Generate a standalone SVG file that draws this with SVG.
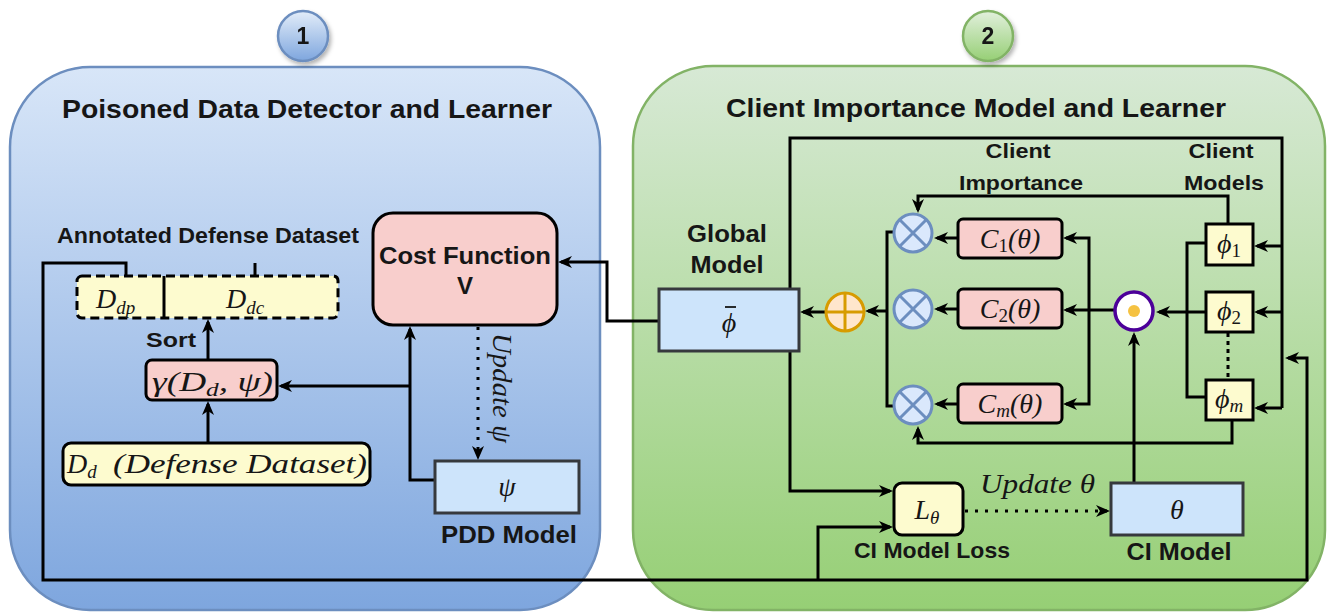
<svg xmlns="http://www.w3.org/2000/svg" width="1327" height="613" viewBox="0 0 1327 613">
  <defs>
    <linearGradient id="gBlue" x1="0" y1="0" x2="0" y2="1">
      <stop offset="0" stop-color="#d8e6f8"/>
      <stop offset="1" stop-color="#7ea6de"/>
    </linearGradient>
    <linearGradient id="gGreen" x1="0" y1="0" x2="0" y2="1">
      <stop offset="0" stop-color="#d7e9d5"/>
      <stop offset="1" stop-color="#96cf75"/>
    </linearGradient>
    <linearGradient id="gBadgeBlue" x1="0" y1="0" x2="0" y2="1">
      <stop offset="0" stop-color="#e3edf9"/>
      <stop offset="1" stop-color="#7ea6de"/>
    </linearGradient>
    <linearGradient id="gBadgeGreen" x1="0" y1="0" x2="0" y2="1">
      <stop offset="0" stop-color="#e2f0dd"/>
      <stop offset="1" stop-color="#96cf75"/>
    </linearGradient>
    <filter id="shadow" x="-30%" y="-30%" width="160%" height="160%">
      <feDropShadow dx="2" dy="3" stdDeviation="2" flood-color="#000" flood-opacity="0.3"/>
    </filter>
    <marker id="arr" viewBox="0 0 14 12" refX="11" refY="6" markerWidth="14" markerHeight="12" markerUnits="userSpaceOnUse" orient="auto">
      <path d="M0,0 L14,6 L0,12 L4,6 z" fill="#000"/>
    </marker>
    <style>
      .lbl { font-family: "Liberation Sans", Arial, sans-serif; font-weight: bold; fill: #161616; }
      .title { font-size: 25px; }
      .small { font-size: 21px; }
      .math { font-family: "Liberation Serif", "DejaVu Serif", serif; font-style: italic; fill: #161616; font-size: 28px; }
      .sub { font-size: 19px; }
      .conn { fill: none; stroke: #000; stroke-width: 3; }
      .dot { stroke-dasharray: 3 7; }
      .box { stroke: #000; stroke-width: 3; }
      .pink { fill: #f8cecc; }
      .yellow { fill: #fdfbcf; }
      .model { fill: #cde4fb; stroke: #36393d; stroke-width: 3; }
      .times { fill: #dae8fc; stroke: #6c8ebf; stroke-width: 3; }
    </style>
  </defs>

  <!-- panel 1: poisoned data detector -->
  <g id="panel1">
    <rect x="10" y="67" width="590" height="543" rx="80" ry="80" fill="url(#gBlue)" stroke="#6c8ebf" stroke-width="2.5"/>
    <text class="lbl title" x="307" y="118" text-anchor="middle" textLength="490" lengthAdjust="spacingAndGlyphs">Poisoned Data Detector and Learner</text>
  </g>
  <g id="badge1" filter="url(#shadow)">
    <circle cx="303" cy="36" r="25" fill="url(#gBadgeBlue)" stroke="#6c8ebf" stroke-width="2.5"/>
    <text class="lbl" x="303" y="44" text-anchor="middle" font-size="23">1</text>
  </g>

  <!-- panel 2: client importance model -->
  <g id="panel2">
    <rect x="633" y="66" width="692" height="544" rx="80" ry="80" fill="url(#gGreen)" stroke="#82b366" stroke-width="2.5"/>
    <text class="lbl title" x="976" y="117" text-anchor="middle" textLength="500" lengthAdjust="spacingAndGlyphs">Client Importance Model and Learner</text>
  </g>
  <g id="badge2" filter="url(#shadow)">
    <circle cx="988" cy="36" r="25" fill="url(#gBadgeGreen)" stroke="#82b366" stroke-width="2.5"/>
    <text class="lbl" x="988" y="44" text-anchor="middle" font-size="23">2</text>
  </g>

  <!-- connectors -->
  <g id="connectors">
    <path class="conn" d="M208,360 V322" marker-end="url(#arr)"/>
    <path class="conn" d="M208,443 V404" marker-end="url(#arr)"/>
    <path class="conn" d="M435,480 H410 V329" marker-end="url(#arr)"/>
    <path class="conn" d="M410,386 H281" marker-end="url(#arr)"/>
    <path class="conn dot" d="M478,327 V457" marker-end="url(#arr)"/>
    <path class="conn" d="M659,321 H607 V262 H561" marker-end="url(#arr)"/>
    <path class="conn" d="M126,276 V263 H43 V580 H1307 V358 H1288" marker-end="url(#arr)"/>
    <path class="conn" d="M255,276 V263"/>
    <path class="conn" d="M818,580 V527 H890" marker-end="url(#arr)"/>
    <path class="conn" d="M790,351 V491 H890" marker-end="url(#arr)"/>
    <path class="conn dot" d="M965,511 H1107" marker-end="url(#arr)"/>
    <path class="conn" d="M1134,483 V335" marker-end="url(#arr)"/>
    <path class="conn" d="M1114,310 H1066" marker-end="url(#arr)"/>
    <path class="conn" d="M1089,310 V238 H1066" marker-end="url(#arr)"/>
    <path class="conn" d="M1089,310 V404 H1066" marker-end="url(#arr)"/>
    <path class="conn" d="M958,238 H937" marker-end="url(#arr)"/>
    <path class="conn" d="M958,309 H937" marker-end="url(#arr)"/>
    <path class="conn" d="M958,404 H937" marker-end="url(#arr)"/>
    <path class="conn" d="M894,232 H887 V406 H894"/>
    <path class="conn" d="M887,311 H868" marker-end="url(#arr)"/>
    <path class="conn" d="M825,312 H803" marker-end="url(#arr)"/>
    <path class="conn" d="M790,289 V138 H1282 V408"/>
    <path class="conn" d="M1282,246 H1257" marker-end="url(#arr)"/>
    <path class="conn" d="M1282,312 H1257" marker-end="url(#arr)"/>
    <path class="conn" d="M1282,408 H1257" marker-end="url(#arr)"/>
    <path class="conn" d="M1228,224 V196 H918 V210" marker-end="url(#arr)"/>
    <path class="conn" d="M1206,243 H1187 V397 H1206"/>
    <path class="conn" d="M1206,312 H1159" marker-end="url(#arr)"/>
    <path class="conn" d="M1228,333 V380" stroke-width="4" stroke-dasharray="4 4"/>
    <path class="conn" d="M1232,420 V443 H918 V429" marker-end="url(#arr)"/>
  </g>

  <!-- annotated defense dataset -->
  <g id="annotated-dataset">
    <text class="lbl" x="208" y="243" text-anchor="middle" font-size="22" textLength="302" lengthAdjust="spacingAndGlyphs">Annotated Defense Dataset</text>
    <rect x="77" y="276" width="261" height="42" rx="5" class="yellow" stroke="#000" stroke-width="3" stroke-dasharray="9 5"/>
    <line x1="164" y1="276" x2="164" y2="318" stroke="#000" stroke-width="3"/>
    <text class="math" x="96" y="308">D<tspan class="sub" dy="6">dp</tspan></text>
    <text class="math" x="226" y="308">D<tspan class="sub" dy="6">dc</tspan></text>
  </g>
  <g id="sort-label">
    <text class="lbl small" x="146" y="347" font-size="22" textLength="50" lengthAdjust="spacingAndGlyphs">Sort</text>
  </g>

  <!-- scoring function -->
  <g id="gamma">
    <rect x="146" y="360" width="131" height="40" rx="6" class="box pink"/>
    <text class="math" x="152" y="391" textLength="121" lengthAdjust="spacingAndGlyphs">γ(D<tspan class="sub" dy="5">d</tspan><tspan dy="-5">, ψ)</tspan></text>
  </g>

  <!-- defense dataset -->
  <g id="defense-dataset">
    <rect x="63" y="443" width="307" height="42" rx="8" class="box yellow"/>
    <text class="math" x="67" y="473">D<tspan class="sub" dy="5">d</tspan><tspan dy="-5" x="113" textLength="254" lengthAdjust="spacingAndGlyphs">(Defense Dataset)</tspan></text>
  </g>

  <!-- cost function -->
  <g id="cost-function">
    <rect x="373" y="213" width="184" height="112" rx="20" class="box pink"/>
    <text class="lbl" x="465" y="264" text-anchor="middle" font-size="24" textLength="172" lengthAdjust="spacingAndGlyphs">Cost Function</text>
    <text class="lbl" x="465" y="294" text-anchor="middle" font-size="24">V</text>
  </g>

  <!-- update psi label -->
  <g id="update-psi">
    <text class="math" x="0" y="0" font-size="25" text-anchor="middle" textLength="110" lengthAdjust="spacingAndGlyphs" transform="translate(493,388) rotate(90)">Update ψ</text>
  </g>

  <!-- PDD model -->
  <g id="pdd-model">
    <rect x="435" y="461" width="144" height="52" class="model"/>
    <text class="math" x="507" y="496" text-anchor="middle">ψ</text>
    <text class="lbl" x="509" y="543" text-anchor="middle" font-size="23" textLength="136" lengthAdjust="spacingAndGlyphs">PDD Model</text>
  </g>

  <!-- global model (phi with an averaging bar) -->
  <g id="global-model">
    <text class="lbl" x="727" y="242" text-anchor="middle" font-size="23" textLength="80" lengthAdjust="spacingAndGlyphs">Global</text>
    <text class="lbl" x="727" y="273" text-anchor="middle" font-size="23" textLength="73" lengthAdjust="spacingAndGlyphs">Model</text>
    <rect x="659" y="289" width="140" height="62" class="model"/>
    <text class="math" x="729" y="332" text-anchor="middle">ϕ</text>
    <line x1="725" y1="307" x2="736" y2="307" stroke="#161616" stroke-width="1.8"/>
  </g>

  <!-- aggregation -->
  <g id="sum-node">
    <circle cx="845" cy="312" r="19" fill="#ffe6cc" stroke="#d79b00" stroke-width="3"/>
    <path d="M826,312 H864 M845,293 V331" stroke="#d79b00" stroke-width="3"/>
  </g>

  <!-- weighted products -->
  <g id="times-1">
    <circle cx="913" cy="233" r="19" class="times"/>
    <path d="M899.5,219.5 L926.5,246.5 M926.5,219.5 L899.5,246.5" stroke="#6c8ebf" stroke-width="3"/>
  </g>
  <g id="times-2">
    <circle cx="913" cy="309" r="19" class="times"/>
    <path d="M899.5,295.5 L926.5,322.5 M926.5,295.5 L899.5,322.5" stroke="#6c8ebf" stroke-width="3"/>
  </g>
  <g id="times-m">
    <circle cx="913" cy="405" r="19" class="times"/>
    <path d="M899.5,391.5 L926.5,418.5 M926.5,391.5 L899.5,418.5" stroke="#6c8ebf" stroke-width="3"/>
  </g>

  <!-- client importance scores -->
  <g id="client-importance-label">
    <text class="lbl small" x="1018" y="158" text-anchor="middle" textLength="65" lengthAdjust="spacingAndGlyphs">Client</text>
    <text class="lbl small" x="1021" y="190" text-anchor="middle" textLength="124" lengthAdjust="spacingAndGlyphs">Importance</text>
  </g>
  <g id="c1">
    <rect x="958" y="219" width="104" height="39" rx="5" class="box pink"/>
    <text class="math" x="1010" y="248" text-anchor="middle" font-size="29">C<tspan class="sub" dy="4" font-style="normal">1</tspan><tspan dy="-4">(θ)</tspan></text>
  </g>
  <g id="c2">
    <rect x="958" y="289" width="104" height="39" rx="5" class="box pink"/>
    <text class="math" x="1010" y="318" text-anchor="middle" font-size="29">C<tspan class="sub" dy="4" font-style="normal">2</tspan><tspan dy="-4">(θ)</tspan></text>
  </g>
  <g id="cm">
    <rect x="958" y="384" width="104" height="39" rx="5" class="box pink"/>
    <text class="math" x="1010" y="413" text-anchor="middle" font-size="29">C<tspan class="sub" dy="4">m</tspan><tspan dy="-4">(θ)</tspan></text>
  </g>

  <!-- hadamard node -->
  <g id="hadamard">
    <circle cx="1134" cy="311" r="19" fill="#ffffff" stroke="#4c0099" stroke-width="3.5"/>
    <circle cx="1134" cy="311" r="6" fill="#f5c242"/>
  </g>

  <!-- client models -->
  <g id="client-models-label">
    <text class="lbl small" x="1221" y="158" text-anchor="middle" textLength="65" lengthAdjust="spacingAndGlyphs">Client</text>
    <text class="lbl small" x="1224" y="190" text-anchor="middle" textLength="80" lengthAdjust="spacingAndGlyphs">Models</text>
  </g>
  <g id="phi1">
    <rect x="1206" y="224" width="47" height="41" class="box yellow"/>
    <text class="math" x="1229" y="253" text-anchor="middle">ϕ<tspan class="sub" dy="4" font-style="normal">1</tspan></text>
  </g>
  <g id="phi2">
    <rect x="1206" y="292" width="47" height="40" class="box yellow"/>
    <text class="math" x="1229" y="320" text-anchor="middle">ϕ<tspan class="sub" dy="4" font-style="normal">2</tspan></text>
  </g>
  <g id="phim">
    <rect x="1206" y="380" width="47" height="40" class="box yellow"/>
    <text class="math" x="1229" y="408" text-anchor="middle">ϕ<tspan class="sub" dy="4">m</tspan></text>
  </g>

  <!-- CI loss -->
  <g id="ci-loss">
    <rect x="894" y="483" width="69" height="52" rx="8" class="box yellow"/>
    <text class="math" x="927" y="519" text-anchor="middle">L<tspan class="sub" dy="5">θ</tspan></text>
    <text class="lbl" x="932" y="558" text-anchor="middle" font-size="22" textLength="156" lengthAdjust="spacingAndGlyphs">CI Model Loss</text>
  </g>
  <g id="update-theta">
    <text class="math" x="980" y="493" font-size="26" textLength="115" lengthAdjust="spacingAndGlyphs">Update θ</text>
  </g>

  <!-- CI model -->
  <g id="ci-model">
    <rect x="1111" y="483" width="132" height="52" class="model"/>
    <text class="math" x="1177" y="519" text-anchor="middle" font-size="30">θ</text>
    <text class="lbl" x="1179" y="560" text-anchor="middle" font-size="23" textLength="105" lengthAdjust="spacingAndGlyphs">CI Model</text>
  </g>
</svg>
